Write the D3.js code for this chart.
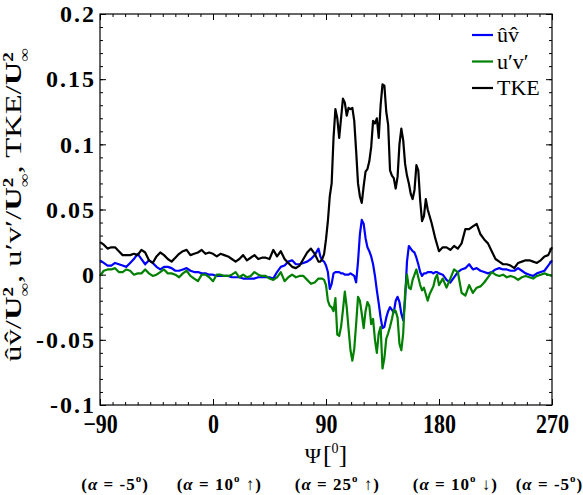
<!DOCTYPE html>
<html>
<head>
<meta charset="utf-8">
<script src="https://cdn.jsdelivr.net/npm/d3@7"></script>
<style>
  body { margin: 0; background: #fff; }
  svg text { font-family: "Liberation Serif", "Times New Roman", serif; }
</style>
</head>
<body>
<svg id="chart" width="583" height="495"></svg>
<script>
// Psi [deg] sample positions (finer steps where the signals are busy)
const psi = [
  -90, -87, -84, -81, -78, -75, -72, -69, -66, -63,
  -60, -57, -54, -51, -48, -45, -42, -39, -36, -33,
  -30, -27, -24, -21, -18, -15, -12, -9, -6, -3,
  0, 3, 6, 9, 12, 15, 18, 21, 24, 27,
  30, 33, 36, 39, 42, 45, 48, 51, 54, 57,
  60, 63, 66, 69, 72, 75, 78, 81, 84,
  85.5, 87, 88.5, 90, 91.5, 93, 94.5, 96, 97.5, 99,
  100.5, 102, 103.5, 105, 106.5, 108, 109.5, 111, 112.5, 114,
  115.5, 117, 118.5, 120, 121.5, 123, 124.5, 126, 127.5, 129,
  130.5, 132, 133.5, 135, 136.5, 138, 139.5, 141, 142.5, 144,
  145.5, 147, 148.5, 150, 151.5, 153, 154.5, 156, 157.5, 159,
  160.5, 162, 163.5, 165, 166.5, 168, 169.5, 171, 172.5, 174,
  175.5, 177, 178.5, 180,
  183, 186, 189, 192, 195, 198, 201, 204, 207, 210,
  213, 216, 219, 222, 225, 228, 231, 234, 237, 240,
  243, 246, 249, 252, 255, 258, 261, 264, 267, 270
];

// u^v^ / U_inf^2
const uvHat = [
  0.011, 0.009, 0.007, 0.007, 0.009, 0.008, 0.007, 0.006, 0.009, 0.012,
  0.016, 0.012, 0.008, 0.011, 0.009, 0.006, 0.004, 0.006, 0.006, 0.005,
  0.003, 0.003, 0.004, 0.005, 0.003, 0.002, 0.002, 0.001, 0.001, 0.000,
  0.000, -0.001, -0.001, -0.001, -0.001, -0.002, -0.002, -0.002, -0.003, -0.003,
  -0.003, -0.003, -0.002, -0.002, -0.002, -0.002, -0.003, 0.002, 0.006, 0.007,
  0.010, 0.011, 0.008, 0.008, 0.009, 0.010, 0.012, 0.015, 0.020,
  0.014, 0.011, 0.010, 0.007, 0.002, -0.011, -0.007, 0.001, 0.002, 0.002,
  0.002, 0.001, 0.001, 0.000, 0.000, 0.000, 0.001, 0.000, -0.001, -0.006,
  0.010, 0.031, 0.042, 0.039, 0.028, 0.021, 0.018, 0.014, 0.008, -0.001,
  -0.012, -0.022, -0.033, -0.041, -0.040, -0.033, -0.028, -0.025, -0.027, -0.029,
  -0.020, -0.017, -0.021, -0.030, -0.035, -0.019, 0.010, 0.022, 0.020, 0.018,
  0.017, 0.013, 0.008, 0.002, -0.001, 0.001, 0.001, 0.002, 0.002, 0.002,
  0.001, 0.002, 0.002, 0.001,
  0.000, -0.004, -0.006, -0.002, 0.002, 0.004, 0.005, 0.008, 0.004, 0.005,
  0.003, 0.002, 0.001, 0.002, 0.004, 0.005, 0.004, 0.004, 0.003, 0.003,
  0.005, 0.003, 0.001, 0.000, -0.001, 0.001, 0.002, 0.003, 0.007, 0.011
];

// u'v' / U_inf^2
const uvPrime = [
  -0.001, 0.003, 0.004, 0.004, 0.005, 0.002, 0.002, 0.004, 0.003, 0.000,
  0.001, 0.001, 0.004, 0.001, -0.001, 0.000, 0.002, 0.004, 0.001, 0.001,
  0.000, -0.002, 0.001, 0.003, -0.001, -0.003, -0.005, 0.000, 0.000, -0.002,
  -0.005, 0.000, 0.000, -0.001, -0.001, 0.000, 0.002, -0.002, 0.000, -0.002,
  -0.001, 0.002, 0.000, -0.001, -0.001, -0.003, -0.004, -0.002, 0.002, -0.005,
  -0.002, 0.000, -0.002, -0.001, -0.001, -0.004, -0.007, -0.006, -0.003,
  -0.003, -0.003, -0.004, -0.008, -0.020, -0.024, -0.025, -0.028, -0.018, -0.046,
  -0.047, -0.040, -0.027, -0.013, -0.025, -0.042, -0.058, -0.066, -0.057, -0.038,
  -0.017, -0.020, -0.030, -0.041, -0.028, -0.021, -0.024, -0.038, -0.034, -0.050,
  -0.060, -0.045, -0.040, -0.072, -0.064, -0.049, -0.045, -0.040, -0.034, -0.027,
  -0.028, -0.033, -0.053, -0.058, -0.045, -0.014, 0.000, -0.010, -0.011, -0.004,
  0.000, 0.004, -0.002, -0.008, -0.012, -0.010, -0.015, -0.020, -0.015, -0.012,
  -0.009, -0.003, 0.000, -0.008,
  -0.003, -0.010, -0.003, 0.004, 0.002, -0.014, -0.016, -0.008, -0.014, -0.010,
  -0.009, -0.006, -0.002, 0.002, 0.000, -0.001, 0.000, -0.002, -0.001, -0.002,
  -0.004, -0.002, -0.001, -0.002, -0.003, -0.001, 0.000, 0.001, 0.000, -0.001
];

// TKE / U_inf^2
const tke = [
  0.025, 0.023, 0.020, 0.021, 0.021, 0.018, 0.015, 0.015, 0.015, 0.016,
  0.015, 0.019, 0.017, 0.011, 0.009, 0.014, 0.017, 0.015, 0.012, 0.010,
  0.013, 0.016, 0.018, 0.019, 0.015, 0.016, 0.017, 0.019, 0.016, 0.017,
  0.016, 0.014, 0.016, 0.015, 0.014, 0.012, 0.010, 0.012, 0.015, 0.011,
  0.013, 0.015, 0.012, 0.013, 0.013, 0.012, 0.019, 0.014, 0.018, 0.012,
  0.009, 0.006, 0.005, 0.007, 0.012, 0.017, 0.020, 0.016, 0.010,
  0.010, 0.012, 0.016, 0.027, 0.041, 0.060, 0.070, 0.105, 0.127, 0.120,
  0.105, 0.120, 0.135, 0.132, 0.122, 0.128, 0.127, 0.128, 0.118, 0.095,
  0.070, 0.060, 0.055, 0.068, 0.079, 0.081, 0.087, 0.098, 0.118, 0.116,
  0.120, 0.105, 0.130, 0.146, 0.145, 0.125, 0.115, 0.080, 0.076, 0.074,
  0.066, 0.075, 0.100, 0.112, 0.103, 0.085, 0.076, 0.070, 0.062, 0.058,
  0.065, 0.084, 0.080, 0.057, 0.041, 0.045, 0.058, 0.050, 0.045, 0.040,
  0.034, 0.028, 0.023, 0.018,
  0.021, 0.021, 0.019, 0.022, 0.020, 0.024, 0.035, 0.035, 0.037, 0.039,
  0.031, 0.027, 0.024, 0.018, 0.012, 0.010, 0.008, 0.008, 0.007, 0.005,
  0.009, 0.010, 0.011, 0.011, 0.010, 0.009, 0.011, 0.014, 0.015, 0.021
];

const xTicks = [-90, 0, 90, 180, 270];
const yTicks = [-0.1, -0.05, 0, 0.05, 0.1, 0.15, 0.2];
const yTickLabels = ['-0.1', '-0.05', '0', '0.05', '0.1', '0.15', '0.2'];

const seriesNames = ['\u00fbv\u0302', 'u\u2032v\u2032', 'TKE'];
const seriesColors = ['#0000ff', '#008000', '#000000'];
const seriesValues = [uvHat, uvPrime, tke];

// flow phase annotations under the axis
const phasePsi = [-78, 5, 99, 193, 268];
const phaseAngle = ['-5', '10', '25', '10', '-5'];
const phaseArrow = ['', ' \u2191', ' \u2191', ' \u2193', ''];

const svg = d3.select('#chart');
const plotLeft = 100, plotRight = 552, plotTop = 14, plotBottom = 405;

const x = d3.scaleLinear().domain([-90, 270]).range([plotLeft, plotRight]);
const y = d3.scaleLinear().domain([-0.1, 0.2]).range([plotBottom, plotTop]);

// ---- axes: inward ticks on all four sides ----
const xMinor = d3.range(-90, 271, 10);
const yMinor = d3.range(-0.1, 0.2001, 0.01);

function styleAxis(g) {
  g.select('.domain').remove();
  g.selectAll('.tick line').attr('stroke', '#000').attr('stroke-width', 1);
}

svg.append('g').attr('transform', 'translate(0,' + plotBottom + ')')
  .call(d3.axisBottom(x).tickValues(xMinor).tickSize(-3).tickFormat(''))
  .call(styleAxis);
svg.append('g').attr('transform', 'translate(0,' + plotTop + ')')
  .call(d3.axisTop(x).tickValues(xMinor).tickSize(-3).tickFormat(''))
  .call(styleAxis);
svg.append('g').attr('transform', 'translate(' + plotLeft + ',0)')
  .call(d3.axisLeft(y).tickValues(yMinor).tickSize(-3).tickFormat(''))
  .call(styleAxis);
svg.append('g').attr('transform', 'translate(' + plotRight + ',0)')
  .call(d3.axisRight(y).tickValues(yMinor).tickSize(-3).tickFormat(''))
  .call(styleAxis);

const xAxis = svg.append('g').attr('transform', 'translate(0,' + plotBottom + ')')
  .call(d3.axisBottom(x).tickValues(xTicks).tickSize(-6).tickPadding(8).tickFormat(d3.format('d')))
  .call(styleAxis);
svg.append('g').attr('transform', 'translate(0,' + plotTop + ')')
  .call(d3.axisTop(x).tickValues(xTicks).tickSize(-6).tickFormat(''))
  .call(styleAxis);
const yAxis = svg.append('g').attr('transform', 'translate(' + plotLeft + ',0)')
  .call(d3.axisLeft(y).tickValues(yTicks).tickSize(-6).tickPadding(4)
    .tickFormat((d, i) => yTickLabels[i]))
  .call(styleAxis);
svg.append('g').attr('transform', 'translate(' + plotRight + ',0)')
  .call(d3.axisRight(y).tickValues(yTicks).tickSize(-6).tickFormat(''))
  .call(styleAxis);

// the source figure's lettering is a little stretched, so scale it to fit
xAxis.selectAll('.tick text')
  .attr('font-family', '"Liberation Serif", serif')
  .attr('font-weight', 'bold')
  .attr('font-size', 22)
  .attr('fill', '#000')
  .attr('transform', 'scale(1,1.2)');
yAxis.selectAll('.tick text')
  .attr('font-family', '"Liberation Serif", serif')
  .attr('font-weight', 'bold')
  .attr('font-size', 24)
  .attr('letter-spacing', 2)
  .attr('fill', '#000');

// ---- series ----
seriesValues.forEach((vals, k) => {
  const line = d3.line()
    .x((d, i) => x(psi[i]))
    .y(d => y(d));
  svg.append('path')
    .datum(vals)
    .attr('fill', 'none')
    .attr('stroke', seriesColors[k])
    .attr('stroke-width', 2.2)
    .attr('stroke-linejoin', 'round')
    .attr('d', line);
});

// frame drawn last so the border sits on top
svg.append('rect')
  .attr('x', plotLeft).attr('y', plotTop)
  .attr('width', plotRight - plotLeft).attr('height', plotBottom - plotTop)
  .attr('fill', 'none').attr('stroke', '#000').attr('stroke-width', 1.2);

// ---- legend ----
const legend = svg.append('g').attr('transform', 'translate(472,35)');
seriesNames.forEach((name, k) => {
  const row = legend.append('g').attr('transform', 'translate(0,' + (k * 26.5) + ')');
  row.append('line')
    .attr('x1', 0).attr('x2', 21).attr('y1', 0).attr('y2', 0)
    .attr('stroke', seriesColors[k]).attr('stroke-width', 2.2);
  row.append('text')
    .attr('x', 25).attr('y', 7)
    .attr('font-size', 22)
    .text(name);
});

// ---- y label ----
const yl = svg.append('text')
  .attr('transform', 'translate(21,205) rotate(-90) scale(1.36,1)')
  .attr('text-anchor', 'middle')
  .attr('font-size', 24);
function uInf(t) {
  t.append('tspan').attr('font-weight', 'bold').text('U');
  t.append('tspan').attr('font-weight', 'bold').attr('font-size', 14).attr('dy', -8).text('2');
  t.append('tspan').attr('font-size', 14).attr('dx', -7).attr('dy', 16).text('\u221e');
  return t.append('tspan').attr('dy', -8);
}
yl.append('tspan').text('\u00fbv\u0302/');
uInf(yl).text(', u\u2032v\u2032/');
uInf(yl).text(', TKE/');
uInf(yl);

// ---- x label ----
const xl = svg.append('text')
  .attr('x', x(90)).attr('y', 463)
  .attr('text-anchor', 'middle');
xl.append('tspan').attr('font-size', 22).text('\u03a8');
xl.append('tspan').attr('font-size', 26).attr('dx', 2).text('[');
xl.append('tspan').attr('font-size', 14).attr('dy', -10).text('0');
xl.append('tspan').attr('font-size', 26).attr('dy', 10).text(']');

// ---- phase annotations ----
phasePsi.forEach((p, i) => {
  const t = svg.append('text')
    .attr('x', x(p)).attr('y', 490)
    .attr('text-anchor', 'middle')
    .attr('font-size', 17)
    .attr('letter-spacing', 1)
    .attr('font-weight', 'bold');
  t.append('tspan').text('(');
  t.append('tspan').attr('font-style', 'italic').text('\u03b1');
  t.append('tspan').text(' = ' + phaseAngle[i]);
  t.append('tspan').attr('font-size', 11).attr('dy', -8).text('o');
  t.append('tspan').attr('dy', 8).text(phaseArrow[i] + ')');
});
</script>
</body>
</html>
